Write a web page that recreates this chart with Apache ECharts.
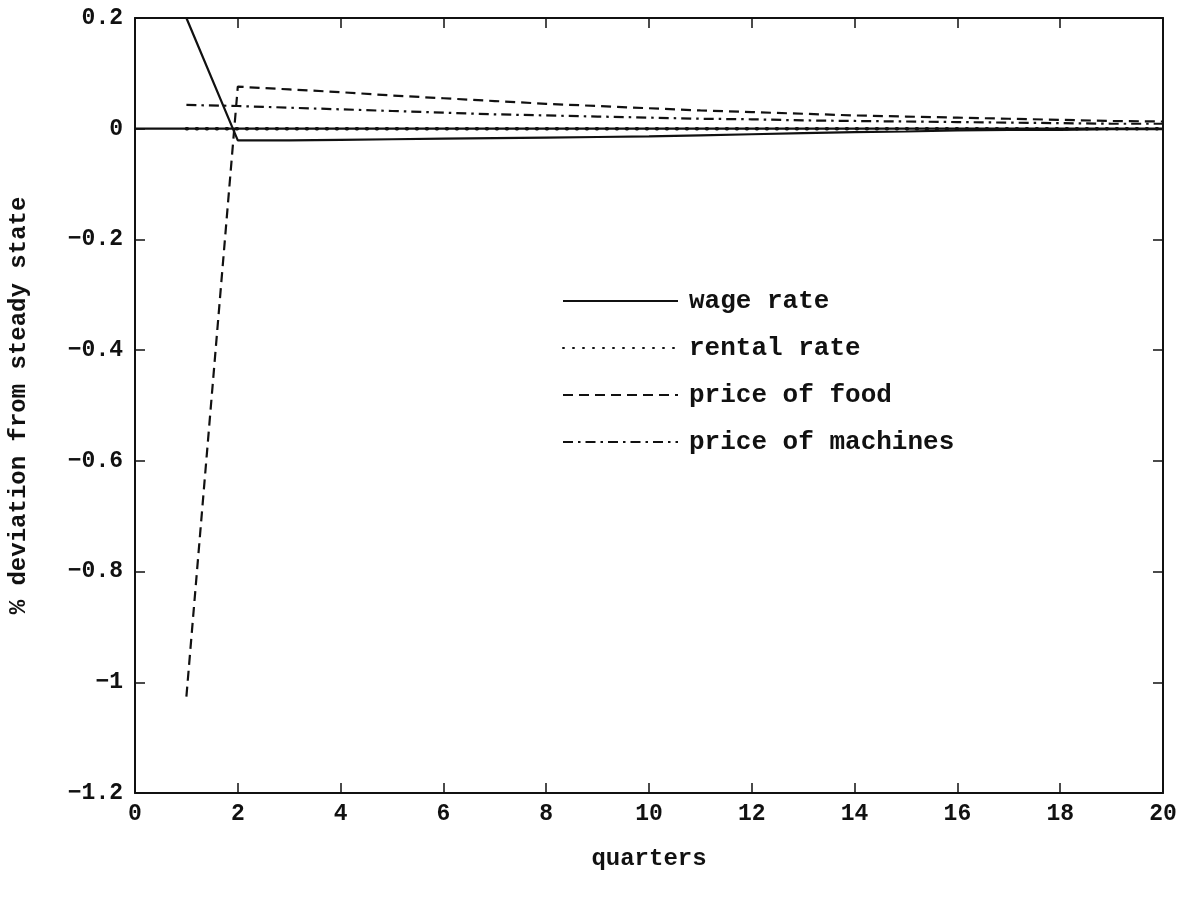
<!DOCTYPE html>
<html>
<head>
<meta charset="utf-8">
<script src="https://cdn.jsdelivr.net/npm/echarts@6/dist/echarts.min.js"></script>
<style>
html,body{margin:0;padding:0;background:#fff;}
#chart{width:1177px;height:909px;}
</style>
</head>
<body>
<div id="chart"></div>
<script>
// Data
const quarters = [1,2,3,4,5,6,7,8,9,10,11,12,13,14,15,16,17,18,19,20];
const wageRate = [0.20,-0.021,-0.021,-0.020,-0.019,-0.018,-0.017,-0.016,-0.015,-0.014,-0.012,-0.010,-0.008,-0.006,-0.005,-0.003,-0.002,-0.002,-0.001,-0.001];
const rentalRate = [0,0,0,0,0,0,0,0,0,0,0,0,0,0,0,0,0,0,0,0];
const priceFood = [-1.026,0.076,0.071,0.066,0.060,0.055,0.050,0.045,0.041,0.037,0.033,0.030,0.027,0.024,0.022,0.020,0.018,0.016,0.014,0.013];
const priceMachines = [0.043,0.041,0.038,0.035,0.032,0.029,0.026,0.024,0.022,0.020,0.018,0.017,0.015,0.014,0.013,0.012,0.011,0.010,0.009,0.009];
const zeroLineX = [0,20];
const xTicks = [0,2,4,6,8,10,12,14,16,18,20];
const yTicks = [0.2,0,-0.2,-0.4,-0.6,-0.8,-1,-1.2];

const pair = (xs, ys) => xs.map((x,i)=>[x, ys[i]]);
const MONO = '"Liberation Mono", "DejaVu Sans Mono", monospace';
const labelFont = {fontFamily:MONO, fontWeight:'bold', fontSize:23, color:'#111'};
const fmtY = v => { const r = Math.round(v*10)/10; return r === 0 ? '0' : String(r).replace('-', '\u2212'); };

const axisLineStyle = {onZero:false, lineStyle:{color:'#111', width:2}};
const tickStyle = {inside:true, length:10, lineStyle:{color:'#111', width:1.5}};

const chart = echarts.init(document.getElementById('chart'), null, {renderer:'canvas'});
chart.setOption({
  animation:false,
  backgroundColor:'#fff',
  grid:{left:135, right:14, top:18, bottom:116, containLabel:false, outerBoundsMode:'none'},
  legend:{
    orient:'vertical', left:557, top:283, itemGap:21, itemWidth:115, itemHeight:26,
    itemStyle:{opacity:0},
    textStyle:{fontFamily:MONO, fontWeight:'bold', fontSize:26, color:'#111', padding:[0,0,0,6]},
    data:['wage rate','rental rate','price of food','price of machines']
  },
  xAxis:[{
    type:'value', min:0, max:20, interval:2,
    axisLine:axisLineStyle, axisTick:tickStyle,
    axisLabel:{...labelFont, margin:10, formatter: v => String(v)},
    splitLine:{show:false},
    name:'quarters', nameLocation:'middle', nameGap:54,
    nameTextStyle:{...labelFont, fontSize:24}
  },{
    type:'value', position:'top', min:0, max:20, interval:2,
    axisLine:axisLineStyle, axisTick:tickStyle,
    axisLabel:{show:false}, splitLine:{show:false}
  }],
  yAxis:[{
    type:'value', min:-1.2, max:0.2, interval:0.2,
    axisLine:axisLineStyle, axisTick:tickStyle,
    axisLabel:{...labelFont, margin:12, formatter: fmtY},
    splitLine:{show:false},
    name:'% deviation from steady state', nameLocation:'middle', nameGap:104, nameRotate:90,
    nameTextStyle:{fontFamily:MONO, fontWeight:'bold', fontSize:24, color:'#111'}
  },{
    type:'value', position:'right', min:-1.2, max:0.2, interval:0.2,
    axisLine:axisLineStyle, axisTick:tickStyle,
    axisLabel:{show:false}, splitLine:{show:false}
  }],
  series:[
    {name:'zero', type:'line', data: zeroLineX.map(x=>[x,0]), symbol:'none', silent:true,
     lineStyle:{color:'#111', width:2.2, type:'solid'}},
    {name:'wage rate', type:'line', data: pair(quarters, wageRate), symbol:'none', clip:true,
     lineStyle:{color:'#111', width:2.2, type:'solid'}, itemStyle:{color:'#111'}},
    {name:'rental rate', type:'line', data: pair(quarters, rentalRate), symbol:'none', clip:true,
     lineStyle:{color:'#111', width:3.5, type:[1,9], cap:'round'}, itemStyle:{color:'#111'}},
    {name:'price of food', type:'line', data: pair(quarters, priceFood), symbol:'none', clip:true,
     lineStyle:{color:'#111', width:2.2, type:[10,6]}, itemStyle:{color:'#111'}},
    {name:'price of machines', type:'line', data: pair(quarters, priceMachines), symbol:'none', clip:true,
     lineStyle:{color:'#111', width:2.2, type:[10,5,2.5,5]}, itemStyle:{color:'#111'}}
  ]
});
</script>
</body>
</html>
